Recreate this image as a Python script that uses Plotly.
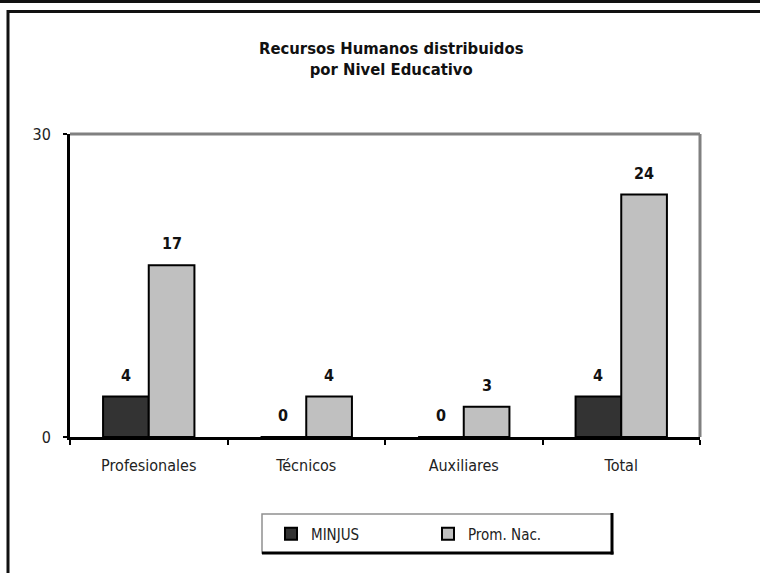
import plotly.graph_objects as go

categories = ["Profesionales", "Técnicos", "Auxiliares", "Total"]
minjus = [4, 0, 0, 4]
prom_nac = [17, 4, 3, 24]
series_names = ["MINJUS", "Prom. Nac."]
y_ticks = [0, 30]

FONT = "DejaVu Sans Condensed, Liberation Sans Narrow, Arial Narrow, sans-serif"
W, H = 760, 573
L, R, T, B = 70, 60, 134, 136
PW, PH = W - L - R, H - T - B


def px(x):
    return (x - L) / PW


def py(y):
    return (H - B - y) / PH


fig = go.Figure()
fig.add_trace(go.Bar(x=categories, y=minjus, name=series_names[0],
                     marker=dict(color="#333333", line=dict(color="#000000", width=2))))
fig.add_trace(go.Bar(x=categories, y=prom_nac, name=series_names[1],
                     marker=dict(color="#C0C0C0", line=dict(color="#000000", width=2))))

bargap = 0.42
bw = (1 - bargap) / 2
annotations = []
for i, (a, b) in enumerate(zip(minjus, prom_nac)):
    for off, v in ((-bw / 2, a), (bw / 2, b)):
        annotations.append(dict(x=i + off, y=v, xref="x", yref="y", text=f"<b>{v}</b>",
                                showarrow=False, yanchor="bottom", yshift=10,
                                font=dict(family=FONT, size=16, color="#111111")))

annotations.append(dict(x=px(391), y=py(37), xref="paper", yref="paper",
                        text="<b>Recursos Humanos distribuidos<br>por Nivel Educativo</b>",
                        showarrow=False, xanchor="center", yanchor="top",
                        font=dict(family=FONT, size=16.5, color="#111111")))

shapes = [
    # plot area top/right gray border
    dict(type="line", xref="paper", yref="paper", x0=0, x1=1, y0=1, y1=1,
         line=dict(color="#808080", width=3)),
    dict(type="line", xref="paper", yref="paper", x0=1, x1=1, y0=0, y1=1,
         line=dict(color="#808080", width=3)),
    # outer frame
    dict(type="line", xref="paper", yref="paper", x0=px(0), x1=px(W), y0=py(1.5), y1=py(1.5),
         line=dict(color="#111111", width=3)),
    dict(type="line", xref="paper", yref="paper", x0=px(8), x1=px(W), y0=py(11.5), y1=py(11.5),
         line=dict(color="#111111", width=3)),
    dict(type="line", xref="paper", yref="paper", x0=px(8), x1=px(8), y0=py(10), y1=py(H),
         line=dict(color="#111111", width=3)),
    # legend box
    dict(type="rect", xref="paper", yref="paper", x0=px(262), x1=px(612), y0=py(514), y1=py(553),
         line=dict(color="#909090", width=1.5)),
    dict(type="line", xref="paper", yref="paper", x0=px(612), x1=px(612), y0=py(513), y1=py(554.5),
         line=dict(color="#000000", width=3)),
    dict(type="line", xref="paper", yref="paper", x0=px(262), x1=px(613.5), y0=py(553), y1=py(553),
         line=dict(color="#000000", width=3)),
]

fig.update_layout(
    width=W, height=H,
    margin=dict(l=L, r=R, t=T, b=B, autoexpand=False),
    paper_bgcolor="white", plot_bgcolor="white",
    barmode="group", bargap=bargap, bargroupgap=0,
    font=dict(family=FONT, size=15, color="#222222"),
    showlegend=True,
    legend=dict(orientation="h", x=px(271), y=py(534), xanchor="left", yanchor="middle",
                entrywidth=112, entrywidthmode="pixels",
                font=dict(family=FONT, size=15, color="#222222"),
                bgcolor="rgba(0,0,0,0)", borderwidth=0, itemwidth=30,
                itemclick=False),
    annotations=annotations,
    shapes=shapes,
    xaxis=dict(type="category", showline=True, linecolor="#000000", linewidth=3,
               ticks="outside", tickson="boundaries", ticklen=5, tickwidth=2, tickcolor="#000000",
               showgrid=False, zeroline=False, ticklabelstandoff=12,
               tickfont=dict(family=FONT, size=16, color="#222222")),
    yaxis=dict(range=[0, 30], tickvals=y_ticks, showline=True, linecolor="#000000", linewidth=3,
               ticks="outside", ticklen=4, tickwidth=2, tickcolor="#000000",
               showgrid=False, zeroline=False, ticklabelstandoff=9,
               tickfont=dict(family=FONT, size=16, color="#222222")),
)

fig.write_html("out.html", config={"displayModeBar": False},
               post_script="document.body.style.margin='0px';")
